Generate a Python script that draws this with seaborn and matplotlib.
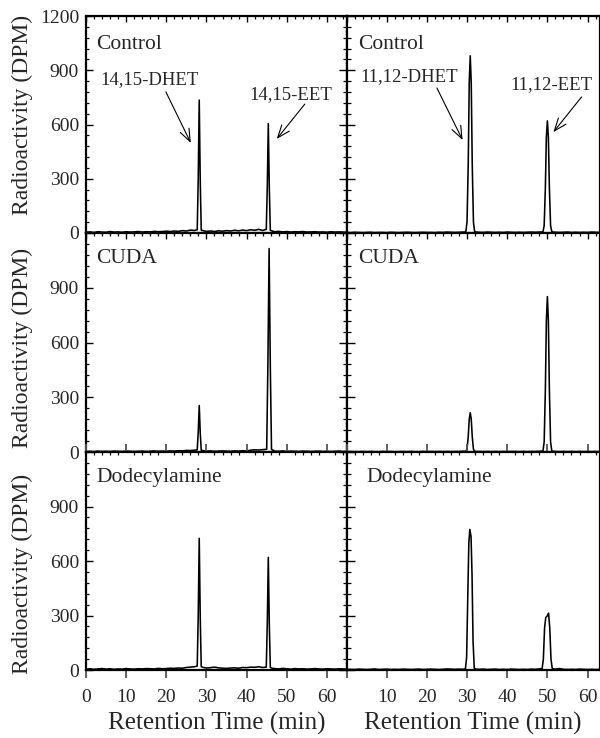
import matplotlib
matplotlib.use("Agg")
import matplotlib.pyplot as plt
import seaborn as sns
from matplotlib.ticker import MultipleLocator

# ---------------- data ----------------
# 14,15-EET panels (left column)
lc_t = list(range(0, 28)) + [27.7, 27.95, 28.2, 28.45, 28.7, 29.3] + list(range(30, 45)) + \
       [44.9, 45.15, 45.4, 45.65, 45.9, 46.5] + list(range(47, 66))
lc_v = [4, 6, 3, 7, 5, 4, 8, 5, 6, 4, 7, 5, 6, 8, 5, 7, 6, 9, 7, 8, 10, 8, 11, 9, 13, 11, 16, 14] + \
       [18, 300, 735, 290, 16, 12] + \
       [9, 11, 8, 12, 10, 13, 11, 15, 12, 16, 13, 18, 15, 20, 14] + \
       [20, 260, 605, 250, 15, 10] + \
       [7, 9, 6, 8, 5, 7, 6, 8, 5, 6, 7, 5, 6, 4, 7, 5, 6, 5, 4]

lu_t = list(range(0, 28)) + [27.7, 27.95, 28.2, 28.45, 28.7, 29.3] + list(range(30, 45)) + \
       [45.0, 45.3, 45.6, 45.9, 46.2, 46.8] + list(range(47, 66))
lu_v = [3, 4, 2, 5, 3, 4, 3, 5, 4, 3, 5, 4, 3, 4, 5, 3, 4, 6, 4, 5, 4, 6, 5, 7, 6, 9, 8, 10] + \
       [12, 110, 255, 105, 10, 7] + \
       [5, 6, 4, 5, 6, 5, 4, 6, 5, 7, 6, 10, 12, 11, 13] + \
       [15, 480, 1115, 470, 14, 8] + \
       [5, 4, 6, 3, 5, 4, 3, 5, 4, 3, 4, 5, 3, 4, 3, 4, 5, 3, 4]

ld_t = list(range(0, 28)) + [27.7, 27.95, 28.2, 28.45, 28.7, 29.3] + list(range(30, 45)) + \
       [44.9, 45.15, 45.4, 45.65, 45.9, 46.5] + list(range(47, 66))
ld_v = [5, 7, 4, 6, 8, 5, 7, 4, 6, 5, 8, 6, 5, 7, 6, 8, 7, 6, 9, 7, 8, 10, 9, 11, 10, 14, 16, 18] + \
       [22, 300, 725, 290, 18, 14] + \
       [11, 13, 16, 12, 10, 9, 11, 12, 10, 14, 13, 16, 15, 18, 14] + \
       [16, 260, 620, 250, 14, 9] + \
       [8, 6, 9, 7, 5, 8, 6, 7, 5, 6, 8, 6, 5, 7, 6, 5, 7, 6, 5]

# 11,12-EET panels (right column)
rc_t = list(range(0, 30)) + [29.7, 30.0, 30.3, 30.55, 30.8, 31.05, 31.3, 31.6, 31.9, 32.3] + \
       list(range(33, 49)) + [48.9, 49.2, 49.5, 49.75, 50.0, 50.25, 50.5, 50.8, 51.1, 51.5] + \
       list(range(52, 66))
rc_v = [3, 2, 4, 3, 2, 3, 4, 2, 3, 3, 2, 4, 3, 2, 3, 4, 3, 2, 3, 4, 3, 3, 2, 4, 3, 5, 4, 3, 4, 5] + \
       [6, 60, 380, 830, 980, 830, 380, 60, 8, 5] + \
       [4, 3, 5, 4, 3, 4, 3, 5, 4, 3, 4, 3, 4, 5, 4, 5] + \
       [6, 40, 250, 530, 620, 530, 250, 40, 8, 5] + \
       [4, 3, 4, 5, 3, 4, 3, 4, 3, 5, 4, 3, 4, 3]

ru_t = list(range(0, 30)) + [29.7, 30.0, 30.3, 30.55, 30.8, 31.05, 31.3, 31.6, 31.9, 32.3] + \
       list(range(33, 49)) + [48.9, 49.2, 49.5, 49.75, 50.0, 50.25, 50.5, 50.8, 51.1, 51.5] + \
       list(range(52, 66))
ru_v = [2, 3, 2, 2, 3, 2, 3, 2, 2, 3, 2, 3, 2, 2, 3, 2, 3, 2, 2, 3, 2, 3, 2, 3, 2, 3, 2, 3, 3, 4] + \
       [4, 15, 85, 180, 215, 180, 85, 15, 4, 3] + \
       [3, 2, 3, 2, 3, 2, 3, 2, 3, 3, 2, 3, 2, 3, 3, 4] + \
       [5, 55, 340, 720, 852, 720, 340, 55, 6, 4] + \
       [3, 2, 3, 2, 3, 2, 3, 2, 3, 2, 3, 2, 3, 2]

rd_t = list(range(0, 30)) + [29.6, 29.9, 30.2, 30.45, 30.7, 31.0, 31.25, 31.5, 31.8, 32.2] + \
       list(range(33, 49)) + [48.7, 49.0, 49.3, 49.6, 49.9, 50.3, 50.6, 50.9, 51.2, 51.6] + \
       list(range(52, 66))
rd_v = [3, 4, 3, 5, 4, 3, 4, 6, 3, 4, 5, 3, 4, 3, 5, 4, 3, 4, 5, 3, 4, 5, 4, 3, 4, 6, 5, 4, 5, 4] + \
       [6, 70, 420, 700, 774, 735, 520, 160, 10, 5] + \
       [4, 5, 3, 4, 5, 3, 4, 3, 5, 4, 3, 4, 3, 5, 4, 6] + \
       [8, 60, 230, 290, 295, 313, 230, 60, 10, 6] + \
       [5, 8, 4, 3, 4, 3, 5, 4, 3, 4, 3, 4, 3, 4]

panel_names = ["Control", "CUDA", "Dodecylamine"]
y_ticks = [0, 300, 600, 900, 1200]
x_ticks = [0, 10, 20, 30, 40, 50, 60]
left_xlabels = ["0", "10", "20", "30", "40", "50", "60"]
right_xlabels = ["", "10", "20", "30", "40", "50", "60"]
y_label = "Radioactivity (DPM)"
x_label = "Retention Time (min)"

left_traces = [(lc_t, lc_v), (lu_t, lu_v), (ld_t, ld_v)]
right_traces = [(rc_t, rc_v), (ru_t, ru_v), (rd_t, rd_v)]

# ---------------- style ----------------
sns.set_style("ticks")
plt.rcParams["font.family"] = ["Liberation Serif", "DejaVu Serif"]

fig = plt.figure(figsize=(6, 7.38), dpi=100)

row_rects = [(0.6843, 0.2940), (0.3875, 0.2967), (0.0921, 0.2954)]
left_x0, left_w = 86 / 600, 261 / 600
right_x0, right_w = 346.5 / 600, 253.5 / 600
ylabel_y = [0.545, 0.475, 0.44]
label_y = [1040, 1059, 1062]

def style_axis(ax, side, row):
    for sp in ax.spines.values():
        sp.set_linewidth(1.6)
        sp.set_color("black")
    ax.set_ylim(0, 1200)
    ax.set_yticks(y_ticks)
    ax.yaxis.set_minor_locator(MultipleLocator(60))
    ax.set_xticks(x_ticks)
    ax.xaxis.set_minor_locator(MultipleLocator(2))
    ax.tick_params(axis="x", which="major", top=True, direction="in", length=4.5, width=1.0,
                   color="black")
    ax.tick_params(axis="x", which="minor", top=True, bottom=False, direction="in",
                   length=2.5, width=0.9, color="black")
    if row == 2:
        ax.tick_params(axis="x", which="major", bottom=True, direction="out",
                       length=6, width=1.3, color="#555555", labelsize=14, pad=8)
        ax.xaxis.set_tick_params(which="major", top=True)
    else:
        ax.tick_params(axis="x", which="major", bottom=False, labelbottom=False)
    if side == "left":
        ax.set_xlim(0, 65)
        ax.tick_params(axis="y", which="major", left=True, right=False, direction="in",
                       length=5, width=1.0, labelsize=14, pad=5, color="black")
        ax.tick_params(axis="y", which="minor", left=True, right=False, direction="in",
                       length=2.5, width=0.9, color="black")
        if row == 0:
            ax.set_yticklabels([str(v) for v in y_ticks])
        else:
            ax.set_yticklabels([str(v) for v in y_ticks[:-1]] + [""])
        if row == 2:
            ax.set_xticklabels(left_xlabels)
    else:
        ax.set_xlim(0, 63.1)
        ax.tick_params(axis="y", which="major", left=True, right=False, direction="inout",
                       length=11, width=1.0, labelleft=False, color="black")
        ax.tick_params(axis="y", which="minor", left=True, right=False, direction="inout",
                       length=6, width=0.9, color="black")
        if row == 2:
            ax.set_xticklabels(right_xlabels)

axes_left, axes_right = [], []
for row in range(3):
    b, h = row_rects[row]
    axl = fig.add_axes([left_x0, b, left_w, h])
    axr = fig.add_axes([right_x0, b, right_w, h])
    axes_left.append(axl)
    axes_right.append(axr)

    tl, vl = left_traces[row]
    tr, vr = right_traces[row]
    sns.lineplot(x=tl, y=vl, ax=axl, color="black", linewidth=1.15, estimator=None,
                 sort=False, legend=False)
    sns.lineplot(x=tr, y=vr, ax=axr, color="black", linewidth=1.15, estimator=None,
                 sort=False, legend=False)

    style_axis(axl, "left", row)
    style_axis(axr, "right", row)

    axl.set_ylabel(y_label, fontsize=17)
    axl.yaxis.set_label_coords(-0.245, ylabel_y[row])
    axl.yaxis.label.set_va("center")
    axr.set_ylabel("")
    if row == 2:
        axl.set_xlabel(x_label, fontsize=18)
        axr.set_xlabel(x_label, fontsize=18)
        for a in (axl, axr):
            a.xaxis.set_label_coords(0.5, -0.245)
            a.xaxis.label.set_va("center")
    else:
        axl.set_xlabel("")
        axr.set_xlabel("")

    axl.text(2.5, label_y[row], panel_names[row], fontsize=15.5, ha="left", va="center")
    axr.text(3.0 if row < 2 else 4.9, label_y[row], panel_names[row], fontsize=15.5,
             ha="left", va="center")

# annotations in the control panels
arrow_kw = dict(arrowstyle="->,head_length=0.9,head_width=0.35", lw=0.8, color="black",
                shrinkA=0, shrinkB=0)
axl = axes_left[0]
axl.text(15.8, 846, "14,15-DHET", fontsize=13.5, ha="center", va="center")
axl.annotate("", xy=(26.1, 498), xytext=(19.9, 780), arrowprops=arrow_kw)
axl.text(51.1, 763, "14,15-EET", fontsize=13.5, ha="center", va="center")
axl.annotate("", xy=(47.5, 520), xytext=(54.5, 713), arrowprops=arrow_kw)

axr = axes_right[0]
axr.text(15.5, 863, "11,12-DHET", fontsize=13.5, ha="center", va="center")
axr.annotate("", xy=(28.9, 514), xytext=(22.5, 802), arrowprops=arrow_kw)
axr.text(51.1, 818, "11,12-EET", fontsize=13.5, ha="center", va="center")
axr.annotate("", xy=(51.5, 558), xytext=(58.5, 752), arrowprops=arrow_kw)

fig.savefig("out.png", dpi=100)
